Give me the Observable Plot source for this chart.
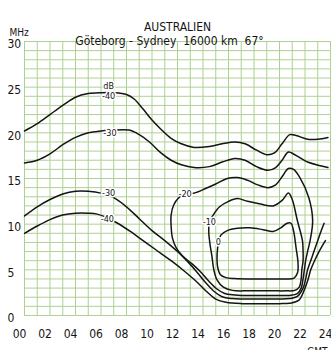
<!DOCTYPE html>
<html><head><meta charset="utf-8">
<script src="https://cdn.jsdelivr.net/npm/d3@7"></script>
<script src="https://cdn.jsdelivr.net/npm/@observablehq/plot@0.6"></script>
<style>
body{margin:0;background:#fff}
#chart svg{font-family:'DejaVu Sans Condensed','DejaVu Sans',sans-serif;font-stretch:condensed}
</style>
</head><body><div id="chart"></div>
<script>
// ---- data (hour GMT, MHz) ----
const title = "AUSTRALIEN";
const subtitle = "Göteborg - Sydney  16000 km  67°";
const xTicks = [0,2,4,6,8,10,12,14,16,18,20,22,24];
const yTicks = [0,5,10,15,20,25,30];
const gridHours = d3.range(0, 25);
const gridMHz = d3.range(0, 31);

// upper boundaries
const upper40 = [[0,20.2],[1,21.0],[2,22.0],[3,23.0],[4,23.9],[5,24.3],[6,24.4],[7,24.4],[8,24.2],[8.6,23.7],[9.3,22.6],[10,21.4],[10.7,20.4],[11.5,19.4],[12.3,18.8],[13.3,18.4],[14.5,18.5],[15.5,18.8],[16.5,19.0],[17.3,18.8],[18.2,18.1],[19.0,17.6],[19.6,17.8],[20.2,18.8],[20.8,19.8],[21.3,19.7],[22.2,19.3],[23.0,19.3],[23.8,19.5]];
const upper30 = [[0,16.7],[1,17.0],[2,17.7],[3,18.7],[4,19.5],[5,20.0],[6,20.2],[7,20.3],[8.2,20.3],[9,19.8],[9.8,19.0],[10.7,17.8],[11.5,17.0],[12.3,16.5],[13.3,16.2],[14.5,16.3],[15.5,16.8],[16.5,17.2],[17.3,17.0],[18.2,16.3],[19.1,15.9],[19.7,16.2],[20.2,17.0],[20.7,17.9],[21.2,17.6],[22.2,16.8],[23.2,16.4],[23.8,16.2]];
// lower boundaries
const lower30 = [[0,10.9],[1,11.9],[2,12.7],[3,13.3],[4,13.6],[5,13.6],[6,13.4],[7,12.9],[8,11.9],[9,10.6],[10,9.3],[11,8.2],[12,7.0],[12.8,5.9],[13.5,4.8],[14.2,3.6],[14.9,2.6],[15.5,2.05],[16.3,1.85],[17,1.8],[18,1.8],[19,1.8],[20,1.8],[20.8,1.85],[21.4,2.1],[21.85,3.0],[22.05,4.0],[22.2,5.0],[22.45,6.0],[22.7,7.0],[23.0,8.2],[23.25,9.2],[23.5,10.1]];
const lower40 = [[0,9.0],[1,9.8],[2,10.5],[3,11.0],[4,11.2],[5,11.2],[5.7,11.1],[6.5,10.7],[7.3,10.1],[8.3,9.2],[9.3,8.2],[10.3,7.2],[11.5,6.0],[12.5,4.9],[13.5,3.7],[14.3,2.6],[15,1.8],[15.8,1.45],[17,1.3],[18,1.3],[19,1.3],[20,1.3],[20.8,1.35],[21.5,1.65],[22.0,3.0],[22.25,4.0],[22.45,5.0],[22.75,6.0],[23.1,7.0],[23.6,8.2]];
// closed loops
const loop20 = [[12.6,13.3],[13.3,13.4],[14.2,13.9],[15.0,14.4],[15.9,15.0],[16.7,15.1],[17.5,14.8],[18.3,14.3],[19.1,14.0],[19.7,14.3],[20.2,15.2],[20.7,16.1],[21.1,16.0],[21.6,15.1],[22.3,12.9],[22.6,10.4],[22.4,8.2],[22.2,7.0],[22.05,6.0],[21.95,5.0],[21.85,4.0],[21.7,3.0],[21.4,2.4],[20.8,2.2],[20,2.2],[19,2.2],[18,2.2],[17,2.2],[16.5,2.25],[15.7,2.4],[15.1,2.9],[14.5,3.7],[13.8,4.8],[13.1,5.7],[12.4,6.5],[11.9,7.4],[11.6,8.5],[11.5,9.8],[11.5,11.0],[11.7,12.1],[12.1,12.9]];
const loop10 = [[14.5,10.2],[14.8,11.0],[15.3,11.9],[16.0,12.5],[16.7,12.8],[17.5,12.5],[18.5,12.2],[19.5,12.0],[20.2,12.6],[20.7,13.4],[21.0,12.7],[21.4,10.4],[21.8,8.2],[21.85,7.0],[21.85,6.0],[21.75,5.0],[21.7,4.0],[21.55,3.1],[21.2,2.75],[20.5,2.7],[19.5,2.7],[18.5,2.7],[17.5,2.7],[16.3,2.75],[15.6,3.1],[15.1,3.9],[14.85,5.0],[14.7,6.5],[14.55,7.8],[14.45,9.2]];
const loop0 = [[15.2,8.0],[15.4,8.8],[15.9,9.3],[16.7,9.55],[17.7,9.6],[18.7,9.4],[19.5,9.2],[20.1,9.6],[20.6,10.1],[20.9,10.1],[21.1,9.3],[21.3,7.4],[21.45,5.8],[21.42,4.7],[21.15,4.1],[20.5,4.0],[19.5,4.0],[18.5,4.0],[17.5,4.0],[16.5,4.05],[15.8,4.15],[15.35,4.5],[15.15,5.3],[15.1,6.5],[15.15,7.4]];

const labelText = ["dB","-40","-30","-30","-40","-20","-10","0"];
const labelHour = [6.6,6.6,6.7,6.6,6.5,12.6,14.5,15.2];
const labelMHz  = [25.1,24.0,20.0,13.4,10.6,13.3,10.2,8.0];

// ---- build tables ----
const toRows = (pts, id) => pts.map(([h, f]) => ({h, f, id}));
const openRows = [...toRows(upper40,"u40"), ...toRows(upper30,"u30"), ...toRows(lower30,"l30"), ...toRows(lower40,"l40")];
const loops = [loop20, loop10, loop0];
const labels = labelText.map((t, i) => ({t, h: labelHour[i], f: labelMHz[i]}));

const grid = "#add193";
const ink = "#151515";

const chart = Plot.plot({
  width: 331, height: 350,
  marginLeft: 24, marginRight: 1, marginTop: 41, marginBottom: 35,
  x: {domain: [0, 24]},
  y: {domain: [0, 30]},
  style: {fontSize: "12px", color: ink, background: "#fff"},
  marks: [
    Plot.ruleX(gridHours, {stroke: grid, strokeWidth: 1}),
    Plot.ruleY(gridMHz, {stroke: grid, strokeWidth: 1}),
    Plot.axisX({ticks: xTicks, tickSize: 0, tickPadding: 14, dx: -5, fontSize: 12,
      tickFormat: d => String(d).padStart(2, "0"), label: null}),
    Plot.axisY({ticks: yTicks, tickSize: 0, tickPadding: 0, textAnchor: "start", dx: -17, dy: 3, fontSize: 12, label: null}),
    Plot.line(openRows, {x: "h", y: "f", z: "id", stroke: ink, strokeWidth: 1.5, curve: "catmull-rom"}),
    ...loops.map(l => Plot.line(toRows(l, "loop"), {x: "h", y: "f", stroke: ink, strokeWidth: 1.5, curve: "catmull-rom-closed"})),
    Plot.text(labels, {x: "h", y: "f", text: "t", fontSize: 9, fill: ink, stroke: "white", strokeWidth: 3}),
    Plot.text([title], {frameAnchor: "top", dy: -19, fontSize: 12, fill: ink}),
    Plot.text([subtitle], {frameAnchor: "top", dx: -8, dy: -5, fontSize: 12, fill: ink}),
    Plot.text(["MHz"], {frameAnchor: "top-left", dx: -15, dy: -13, textAnchor: "start", fontSize: 10, fill: ink}),
    Plot.text(["GMT"], {frameAnchor: "bottom-right", dx: -3, dy: 32, textAnchor: "end", lineAnchor: "top", fontSize: 10, fill: ink})
  ]
});
document.getElementById("chart").appendChild(chart);
</script>
</body></html>
